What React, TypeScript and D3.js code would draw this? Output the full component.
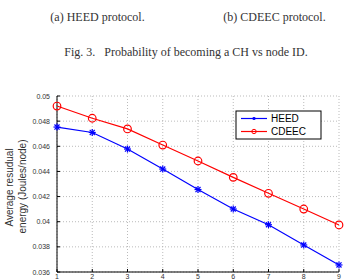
import React from "react";
import * as d3 from "d3";

const nodeIds = [1, 2, 3, 4, 5, 6, 7, 8, 9];
const heedValues = [0.04753, 0.0471, 0.04578, 0.04419, 0.04256, 0.04101, 0.03976, 0.03815, 0.03656];
const cdeecValues = [0.0492, 0.04823, 0.04738, 0.0461, 0.04483, 0.04353, 0.04226, 0.04101, 0.03974];
const yTicks = [0.036, 0.038, 0.04, 0.042, 0.044, 0.046, 0.048, 0.05];
const xTicks = [1, 2, 3, 4, 5, 6, 7, 8, 9];
const seriesNames = ["HEED", "CDEEC"];

const W = 346;
const H = 279;
const L = 57, R = 339, T = 96, B = 272;

export default function App() {
  const x = d3.scaleLinear().domain([1, 9]).range([L, R]);
  const y = d3.scaleLinear().domain([0.036, 0.05]).range([B, T]);
  const line = d3.line<number>().x((_, i) => x(nodeIds[i])).y((d) => y(d));
  const sans = "'Liberation Sans', Arial, sans-serif";
  const serif = "'Liberation Serif', 'Times New Roman', serif";

  const star = (cx: number, cy: number, r: number, color: string, key: string) => (
    <g key={key} stroke={color} strokeWidth={1.2}>
      <line x1={cx - r} y1={cy} x2={cx + r} y2={cy} />
      <line x1={cx} y1={cy - r} x2={cx} y2={cy + r} />
      <line x1={cx - r * 0.72} y1={cy - r * 0.72} x2={cx + r * 0.72} y2={cy + r * 0.72} />
      <line x1={cx - r * 0.72} y1={cy + r * 0.72} x2={cx + r * 0.72} y2={cy - r * 0.72} />
    </g>
  );

  return (
    <svg width={W} height={H} style={{ position: "absolute", left: 0, top: 0, background: "#fff" }}>
      <rect width={W} height={H} fill="#fff" />
      <text x={97.5} y={21} fontFamily={serif} fontSize={12} textAnchor="middle" fill="#333">(a) HEED protocol.</text>
      <text x={274.5} y={21} fontFamily={serif} fontSize={12} textAnchor="middle" fill="#333">(b) CDEEC protocol.</text>
      <text x={186} y={55.5} fontFamily={serif} fontSize={12} textAnchor="middle" fill="#333" xmlSpace="preserve">Fig. 3.   Probability of becoming a CH vs node ID.</text>

      {/* grid */}
      {yTicks.map((t) => (
        <line key={"gy" + t} x1={L} x2={R} y1={y(t)} y2={y(t)} stroke="#aaa" strokeWidth={0.8} strokeDasharray="1,2" />
      ))}
      {xTicks.map((t) => (
        <line key={"gx" + t} x1={x(t)} x2={x(t)} y1={T} y2={B} stroke="#aaa" strokeWidth={0.8} strokeDasharray="1,2" />
      ))}

      {/* axes */}
      <line x1={L} x2={L} y1={T} y2={B} stroke="#000" strokeWidth={1} />
      <line x1={L} x2={R} y1={B} y2={B} stroke="#000" strokeWidth={1} />
      {yTicks.map((t) => (
        <g key={"ty" + t}>
          <line x1={L} x2={L + 3} y1={y(t)} y2={y(t)} stroke="#000" />
          <text x={L - 7} y={y(t) + 2.5} fontFamily={sans} fontSize={7} textAnchor="end" fill="#333">{d3.format("")(t)}</text>
        </g>
      ))}
      {xTicks.map((t) => (
        <g key={"tx" + t}>
          <line x1={x(t)} x2={x(t)} y1={B} y2={B - 3} stroke="#000" />
          <text x={x(t)} y={279} fontFamily={sans} fontSize={7} textAnchor="middle" fill="#333">{t}</text>
        </g>
      ))}

      <text transform={`translate(13,187.5) rotate(-90)`} fontFamily={sans} fontSize={10} textAnchor="middle" fill="#333">Average resudual</text>
      <text transform={`translate(26,186.5) rotate(-90)`} fontFamily={sans} fontSize={10} textAnchor="middle" fill="#333">energy (Joules/node)</text>

      {/* series */}
      <path d={line(heedValues) || ""} fill="none" stroke="#0000ff" strokeWidth={1.2} />
      <path d={line(cdeecValues) || ""} fill="none" stroke="#ff0000" strokeWidth={1.2} />
      {heedValues.map((v, i) => star(x(nodeIds[i]), y(v), 3.5, "#0000ff", "h" + i))}
      {cdeecValues.map((v, i) => (
        <circle key={"c" + i} cx={x(nodeIds[i])} cy={y(v)} r={3.8} fill="none" stroke="#ff0000" strokeWidth={1.2} />
      ))}

      {/* legend */}
      <rect x={236} y={111} width={85} height={28} fill="#fff" stroke="#000" strokeWidth={1} />
      <line x1={241} x2={267} y1={118.5} y2={118.5} stroke="#0000ff" strokeWidth={1.2} />
      {star(254, 118.5, 1.5, "#0000ff", "ls")}
      <text x={271} y={122} fontFamily={sans} fontSize={10} fill="#000">{seriesNames[0]}</text>
      <line x1={241} x2={267} y1={131.5} y2={131.5} stroke="#ff0000" strokeWidth={1.2} />
      <circle cx={254} cy={131.5} r={2.2} fill="none" stroke="#ff0000" strokeWidth={1} />
      <text x={271} y={135} fontFamily={sans} fontSize={10} fill="#000">{seriesNames[1]}</text>
    </svg>
  );
}
